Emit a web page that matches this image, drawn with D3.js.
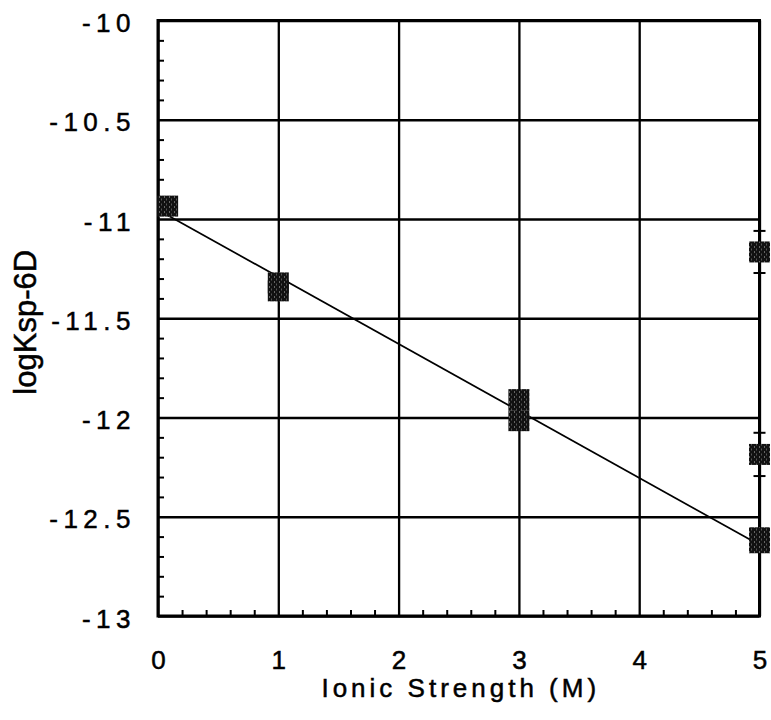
<!DOCTYPE html>
<html>
<head>
<meta charset="utf-8">
<script src="https://cdn.jsdelivr.net/npm/d3@7"></script>
<style>
  html, body { margin: 0; padding: 0; background: #fff; }
  svg { display: block; }
  text { font-family: "Liberation Sans", Arial, Helvetica, sans-serif; fill: #000; stroke: #000; stroke-width: 0.5px; }
</style>
</head>
<body>
<svg id="chart" width="771" height="720"></svg>
<script>
// Measured solubility products vs. ionic strength
const ionicStrength = [0.08, 1, 1, 3, 3, 5, 5, 5, 5];
const logKsp        = [-10.935, -11.322, -11.362, -11.91, -12.016, -11.166, -12.186, -12.606, -12.631];
const errorHalf     = [0, 0, 0, 0, 0, 0.106, 0.109, 0, 0];

// Linear fit endpoints
const fitX = [0.08, 4.95];
const fitY = [-10.981, -12.625];

// Axis ticks
const xTicks = [0, 1, 2, 3, 4, 5];
const xTickLabels = ["0", "1", "2", "3", "4", "5"];
const yTicks = [-10, -10.5, -11, -11.5, -12, -12.5, -13];
const yTickLabels = ["-10", "-10.5", "-11", "-11.5", "-12", "-12.5", "-13"];
const xMinor = [0.2,0.4,0.6,0.8,1.2,1.4,1.6,1.8,2.2,2.4,2.6,2.8,3.2,3.4,3.6,3.8,4.2,4.4,4.6,4.8];
const yMinor = [-10.1,-10.2,-10.3,-10.4,-10.6,-10.7,-10.8,-10.9,-11.1,-11.2,-11.3,-11.4,
                -11.6,-11.7,-11.8,-11.9,-12.1,-12.2,-12.3,-12.4,-12.6,-12.7,-12.8,-12.9];

const xTitle = "Ionic Strength (M)";
const yTitle = "logKsp-6D";

const margin = { left: 158, right: 11.5, top: 20.5, bottom: 104 };
const W = 771, H = 720;
const innerW = W - margin.left - margin.right;
const innerH = H - margin.top - margin.bottom;

const svg = d3.select("#chart");

// Stippled dark fill used for the square markers
const defs = svg.append("defs");
const pat = defs.append("pattern")
  .attr("id", "stipple").attr("patternUnits", "userSpaceOnUse")
  .attr("width", 5).attr("height", 5);
pat.append("rect").attr("width", 5).attr("height", 5).attr("fill", "#111");
pat.append("rect").attr("x", 1).attr("y", 1).attr("width", 1).attr("height", 1).attr("fill", "#bbb");
pat.append("rect").attr("x", 3).attr("y", 3.5).attr("width", 1).attr("height", 1).attr("fill", "#999");

const g = svg.append("g").attr("transform", `translate(${margin.left},${margin.top})`);

const x = d3.scaleLinear().domain([0, 5]).range([0, innerW]);
const y = d3.scaleLinear().domain([-13, -10]).range([innerH, 0]);

// Grid lines at every major tick
g.append("g").attr("class", "grid-x")
  .call(d3.axisBottom(x).tickValues(xTicks).tickSize(innerH).tickFormat(""))
  .call(s => s.select(".domain").remove())
  .selectAll("line").attr("stroke", "#000").attr("stroke-width", 2.3);
g.append("g").attr("class", "grid-y")
  .call(d3.axisRight(y).tickValues(yTicks).tickSize(innerW).tickFormat(""))
  .call(s => s.select(".domain").remove())
  .selectAll("line").attr("stroke", "#000").attr("stroke-width", 2.3);

// Inward minor ticks on the bottom and left axes
g.append("g").attr("transform", `translate(0,${innerH})`)
  .call(d3.axisTop(x).tickValues(xMinor).tickSize(6).tickFormat(""))
  .call(s => s.select(".domain").remove())
  .selectAll("line").attr("stroke", "#000").attr("stroke-width", 2);
g.append("g")
  .call(d3.axisRight(y).tickValues(yMinor).tickSize(6).tickFormat(""))
  .call(s => s.select(".domain").remove())
  .selectAll("line").attr("stroke", "#000").attr("stroke-width", 2);

// Frame
g.append("rect").attr("x", 0).attr("y", 0).attr("width", innerW).attr("height", innerH)
  .attr("fill", "none").attr("stroke", "#000").attr("stroke-width", 3);

// Tick labels
const xAxis = g.append("g").attr("transform", `translate(0,${innerH})`)
  .call(d3.axisBottom(x).tickValues(xTicks).tickSize(0).tickPadding(0)
    .tickFormat((d, i) => xTickLabels[i]));
xAxis.select(".domain").remove();
xAxis.selectAll("text")
  .attr("y", 53).attr("dy", 0)
  .attr("font-size", 26).attr("font-family", "Liberation Sans, Arial, sans-serif")
  .attr("fill", "#000");

const yAxis = g.append("g")
  .call(d3.axisLeft(y).tickValues(yTicks).tickSize(0).tickPadding(0)
    .tickFormat((d, i) => yTickLabels[i]));
yAxis.select(".domain").remove();
yAxis.selectAll("text")
  .attr("x", -28 + 6).attr("dy", 0).attr("y", 11)
  .attr("font-size", 26).attr("font-family", "Liberation Sans, Arial, sans-serif")
  .attr("letter-spacing", 5.5)
  .attr("fill", "#000");

// Axis titles
svg.append("text")
  .attr("x", margin.left + innerW / 2 + 2).attr("y", 697)
  .attr("text-anchor", "middle").attr("font-size", 26).attr("letter-spacing", 4)
  .text(xTitle);
svg.append("text")
  .attr("transform", `translate(36,${margin.top + innerH / 2 + 4}) rotate(-90)`)
  .attr("text-anchor", "middle").attr("font-size", 31)
  .text(yTitle);

// Fit line
const line = d3.line().x(d => x(d[0])).y(d => y(d[1]));
g.append("path")
  .datum(d3.zip(fitX, fitY))
  .attr("d", line)
  .attr("fill", "none").attr("stroke", "#000").attr("stroke-width", 1.7);

// Error bars
const pts = ionicStrength.map((v, i) => ({ x: v, y: logKsp[i], e: errorHalf[i] }));
const eb = g.append("g").selectAll("g").data(pts.filter(d => d.e > 0)).join("g");
eb.append("line")
  .attr("x1", d => x(d.x)).attr("x2", d => x(d.x))
  .attr("y1", d => y(d.y + d.e)).attr("y2", d => y(d.y - d.e))
  .attr("stroke", "#000").attr("stroke-width", 2.5).attr("stroke-dasharray", "3,2");
eb.append("line")
  .attr("x1", d => x(d.x) - 6).attr("x2", d => x(d.x) + 6)
  .attr("y1", d => y(d.y + d.e)).attr("y2", d => y(d.y + d.e))
  .attr("stroke", "#000").attr("stroke-width", 2);
eb.append("line")
  .attr("x1", d => x(d.x) - 6).attr("x2", d => x(d.x) + 6)
  .attr("y1", d => y(d.y - d.e)).attr("y2", d => y(d.y - d.e))
  .attr("stroke", "#000").attr("stroke-width", 2);

// Square markers
const S = 21;
g.append("g").selectAll("rect").data(pts).join("rect")
  .attr("x", d => x(d.x) - S / 2).attr("y", d => y(d.y) - S / 2)
  .attr("width", S).attr("height", S)
  .attr("fill", "url(#stipple)");
</script>
</body>
</html>
